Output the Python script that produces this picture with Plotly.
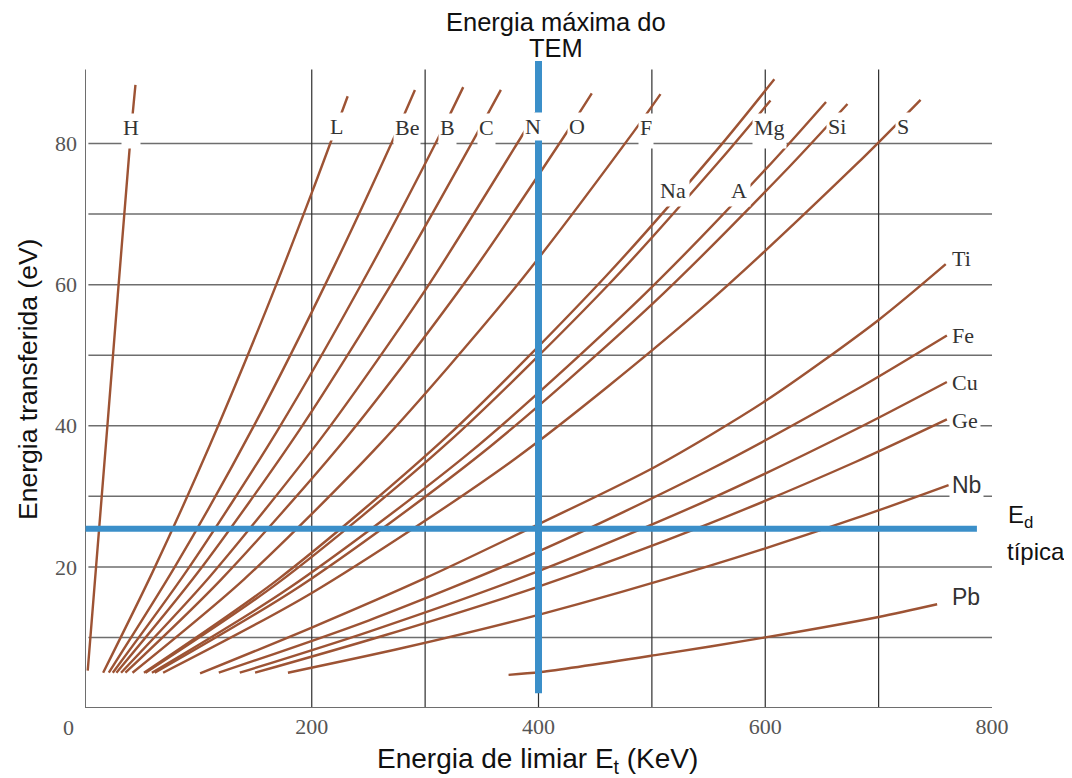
import plotly.graph_objects as go

# ---------------- data ----------------
# threshold energy E_t (KeV) / transferred energy (eV) for each element curve
h_x = [2.4, 20, 39.7, 44.5]
h_y = [5.3, 40.5, 80.0, 88.3]
li_x = [16, 60, 110, 160, 200, 231.7]
li_y = [5.0, 19.4, 37.2, 56.5, 73.0, 86.7]
be_x = [21, 80, 150, 220, 271, 291]
be_y = [5.0, 20.2, 40.3, 62.7, 80.3, 87.6]
b_x = [24.5, 90, 170, 250, 311, 333.6]
b_y = [5.0, 19.5, 39.4, 61.9, 80.6, 88.0]
c_x = [27.7, 100, 190, 280, 344, 366.8]
c_y = [5.0, 19.3, 39.6, 62.7, 80.9, 87.6]
n_x = [31.8, 110, 210, 300, 385, 402]
n_y = [5.0, 18.6, 38.6, 59.2, 81.0, 85.5]
o_x = [35.6, 120, 230, 340, 425, 447]
o_y = [5.0, 18.2, 38.2, 61.4, 81.6, 87.1]
f_x = [41.9, 140, 260, 380, 485, 507.6]
f_y = [5.0, 18.2, 37.4, 59.7, 81.9, 87.0]
na_x = [52, 170, 320, 460, 560, 608]
na_y = [5.0, 18.2, 38.6, 61.3, 79.6, 89.1]
mg_x = [53.4, 170, 320, 460, 560, 604.6]
mg_y = [5.0, 17.7, 37.6, 59.7, 77.6, 86.1]
al_x = [59, 180, 340, 490, 600, 653.6]
al_y = [5.0, 17.0, 36.3, 58.1, 76.3, 85.9]
si_x = [61.5, 190, 350, 500, 620, 672.5]
si_y = [5.0, 17.3, 36.1, 57.2, 76.5, 85.6]
s_x = [68.9, 200, 380, 540, 680, 737]
s_y = [5.0, 16.3, 35.4, 56.1, 77.0, 86.2]
ti_x = [101.5, 200, 300, 402, 503, 600, 700, 759.2]
ti_y = [4.9, 11.4, 18.4, 26.2, 34.2, 43.5, 55.0, 62.9]
fe_x = [118, 250, 400, 550, 680, 760.2]
fe_y = [5.0, 12.4, 22.2, 33.7, 45.1, 52.8]
cu_x = [136.5, 250, 400, 550, 680, 760.2]
cu_y = [5.0, 10.8, 19.4, 29.5, 39.5, 46.2]
ge_x = [150, 260, 400, 550, 680, 760.2]
ge_y = [5.0, 10.1, 17.2, 26.1, 34.9, 40.9]
nb_x = [179, 280, 400, 550, 680, 761.7]
nb_y = [5.0, 8.5, 13.2, 20.1, 26.9, 31.6]
pb_x = [373.6, 402, 503, 600, 700, 751.6]
pb_y = [4.7, 5.1, 7.5, 10.0, 12.9, 14.7]

curves = [(h_x, h_y), (li_x, li_y), (be_x, be_y), (b_x, b_y), (c_x, c_y),
          (n_x, n_y), (o_x, o_y), (f_x, f_y), (na_x, na_y), (mg_x, mg_y),
          (al_x, al_y), (si_x, si_y), (s_x, s_y), (ti_x, ti_y), (fe_x, fe_y),
          (cu_x, cu_y), (ge_x, ge_y), (nb_x, nb_y), (pb_x, pb_y)]

# reference lines
tem_max_energy = 400          # KeV (vertical blue line)
tem_line_span = [2.1, 91.7]   # eV
ed_typical = 25.4             # eV (horizontal blue line)
ed_line_span = [0.5, 786.7]   # KeV

# axes / grid
x_ticks = [200, 400, 600, 800]
y_ticks = [20, 40, 60, 80]
h_grid = [10, 20, 30, 40, 50, 60, 70, 80]
v_grid = [200, 300, 400, 500, 600, 700]

# element labels
top_labels = ["H", "L", "Be", "B", "C", "N", "O", "F", "Mg", "Si", "S"]
top_label_x = [41.0, 221.5, 284.0, 319.6, 354.0, 395.5, 433.8, 494.5, 604.1, 663.4, 721.2]
top_label_gap = [True, False, True, True, True, False, False, True, True, False, False]
mid_labels = ["Na", "A"]
mid_label_x = [518.8, 576.7]
right_labels = ["Ti", "Fe", "Cu", "Ge", "Nb", "Pb"]
right_label_y = [63.7, 52.8, 46.2, 40.8, 31.6, 15.7]
right_label_serif = [True, True, True, True, False, False]

# ---------------- styles ----------------
BROWN = "#9d5334"
BLUE = "#3b8fc9"
SERIF = "Liberation Serif, Times New Roman, serif"
SANS = "Liberation Sans, Arial, sans-serif"

fig = go.Figure()
for cx, cy in curves:
    fig.add_trace(go.Scatter(x=cx, y=cy, mode="lines",
                             line=dict(color=BROWN, width=2.4, shape="spline", smoothing=0.8),
                             hoverinfo="skip", showlegend=False))

shapes = []
for g in h_grid:
    shapes.append(dict(type="line", xref="x", yref="y", x0=3, x1=800, y0=g, y1=g,
                       line=dict(color="#6e6e6e", width=1.5), layer="below"))
for g in v_grid:
    shapes.append(dict(type="line", xref="x", yref="y", x0=g, x1=g, y0=0, y1=90.5,
                       line=dict(color="#2e2e2e", width=1.2), layer="below"))
# axis lines
shapes.append(dict(type="line", xref="x", yref="y", x0=0, x1=0, y0=0, y1=90.5,
                   line=dict(color="#6e6e6e", width=2), layer="below"))
shapes.append(dict(type="line", xref="x", yref="y", x0=0, x1=800, y0=0, y1=0,
                   line=dict(color="#6e6e6e", width=2), layer="below"))
# blue reference lines
shapes.append(dict(type="line", xref="x", yref="y", x0=ed_line_span[0], x1=ed_line_span[1],
                   y0=ed_typical, y1=ed_typical, line=dict(color=BLUE, width=6), layer="above"))
shapes.append(dict(type="line", xref="x", yref="y", x0=tem_max_energy, x1=tem_max_energy,
                   y0=tem_line_span[0], y1=tem_line_span[1], line=dict(color=BLUE, width=7), layer="above"))

annotations = []
for name, lx, gap in zip(top_labels, top_label_x, top_label_gap):
    if gap:
        annotations.append(dict(x=lx, y=84.3, xref="x", yref="y", text=name, showarrow=False,
                                xanchor="center", yanchor="top", height=32, valign="top",
                                bgcolor="white", borderpad=1,
                                font=dict(family=SERIF, size=22, color="#333")))
    else:
        annotations.append(dict(x=lx, y=82.35, xref="x", yref="y", text=name, showarrow=False,
                                xanchor="center", yanchor="middle",
                                bgcolor="white", borderpad=1,
                                font=dict(family=SERIF, size=22, color="#333")))
for name, lx in zip(mid_labels, mid_label_x):
    annotations.append(dict(x=lx, y=73.4, xref="x", yref="y", text=name, showarrow=False,
                            xanchor="center", yanchor="middle", bgcolor="white", borderpad=3,
                            font=dict(family=SERIF, size=22, color="#333")))
for name, ly, serif in zip(right_labels, right_label_y, right_label_serif):
    annotations.append(dict(x=762.5, y=ly, xref="x", yref="y", text=name, showarrow=False,
                            xanchor="left", yanchor="middle", bgcolor="white", borderpad=2,
                            font=dict(family=SERIF if serif else SANS,
                                      size=22 if serif else 23, color="#333")))

# shared origin label
annotations.append(dict(x=0, y=0, xref="paper", yref="paper", text="0", showarrow=False,
                        xanchor="center", yanchor="middle", xshift=-17, yshift=-19,
                        font=dict(family=SERIF, size=22, color="#555")))
# axis titles
annotations.append(dict(x=0, y=46.5, xref="paper", yref="y", text="Energia transferida (eV)",
                        showarrow=False, textangle=-90, xanchor="center", yanchor="middle",
                        xshift=-57, font=dict(family=SANS, size=26.5, color="#111")))
annotations.append(dict(x=399, y=0, xref="x", yref="paper",
                        text="Energia de limiar E<sub>t</sub> (KeV)", showarrow=False,
                        xanchor="center", yanchor="middle", yshift=-52,
                        font=dict(family=SANS, size=28, color="#111")))
# top title
annotations.append(dict(x=415.6, y=1, xref="x", yref="paper", text="Energia máxima do",
                        showarrow=False, xanchor="center", yanchor="middle", yshift=39,
                        font=dict(family=SANS, size=25.5, color="#111")))
annotations.append(dict(x=415.6, y=1, xref="x", yref="paper", text="TEM",
                        showarrow=False, xanchor="center", yanchor="middle", yshift=13,
                        font=dict(family=SANS, size=25.5, color="#111")))
# E_d típica (outside the plot area -> paper coordinates)
annotations.append(dict(x=1.0, y=27.1, xref="paper", yref="y", text="E<sub>d</sub>",
                        showarrow=False, xanchor="left", yanchor="middle", xshift=14,
                        font=dict(family=SANS, size=24, color="#111")))
annotations.append(dict(x=1.0, y=22.2, xref="paper", yref="y", text="típica",
                        showarrow=False, xanchor="left", yanchor="middle", xshift=13,
                        font=dict(family=SANS, size=24, color="#111")))

# the page body has an 8px margin: size the figure so that it fits the window
fig.update_layout(
    width=1064, height=770,
    margin=dict(l=77, r=80, t=53, b=70),
    paper_bgcolor="white", plot_bgcolor="white",
    showlegend=False,
    shapes=shapes, annotations=annotations,
    xaxis=dict(range=[0, 800], tickvals=x_ticks, ticktext=[str(v) for v in x_ticks],
               showgrid=False, zeroline=False, showline=False, ticks="",
               ticklabelstandoff=3, tickfont=dict(family=SERIF, size=22, color="#555")),
    yaxis=dict(range=[0, 91.7], tickvals=y_ticks, ticktext=[str(v) for v in y_ticks],
               showgrid=False, zeroline=False, showline=False, ticks="",
               ticklabelstandoff=7, tickfont=dict(family=SERIF, size=22, color="#555")),
)

fig.write_html("out.html")
